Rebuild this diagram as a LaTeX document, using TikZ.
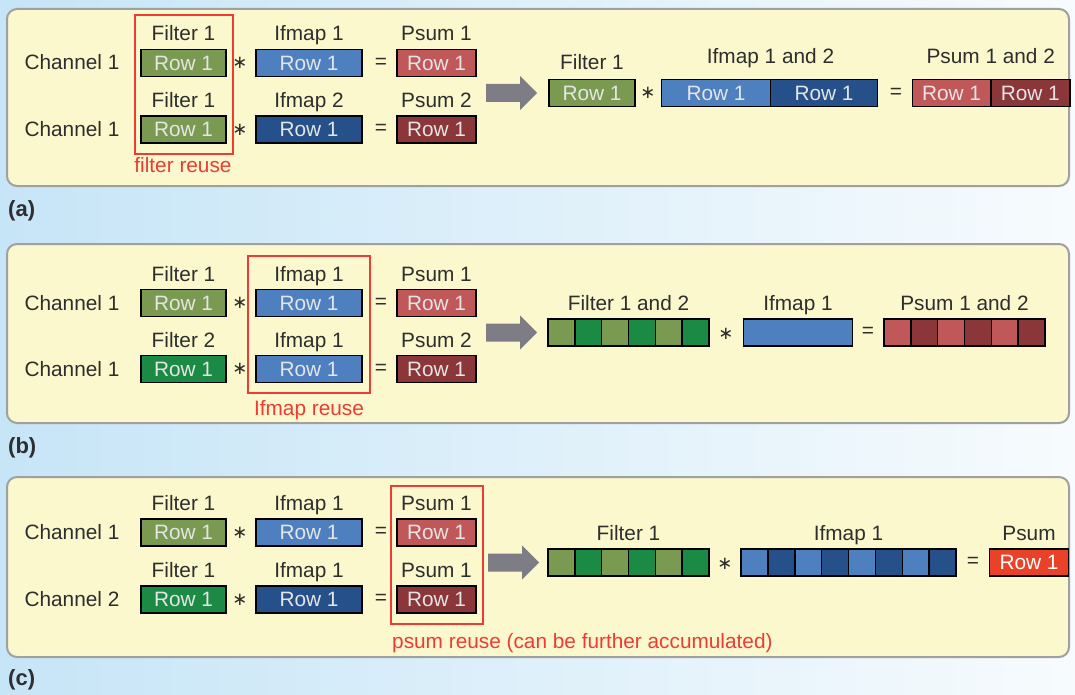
\documentclass[tikz,border=0pt]{standalone}
\usepackage{fontspec}
\setmainfont{Liberation Sans}
\newfontfamily\opfont{DejaVu Sans}
\usetikzlibrary{positioning}
\definecolor{fgreen}{HTML}{7A9A52}
\definecolor{fgreenD}{HTML}{1B8A45}
\definecolor{iblue}{HTML}{4E80C0}
\definecolor{iblueD}{HTML}{25508A}
\definecolor{pred}{HTML}{C0585A}
\definecolor{predD}{HTML}{8B3639}
\definecolor{pbright}{HTML}{EA4129}
\definecolor{reusered}{HTML}{EE3B36}
\definecolor{panelfill}{HTML}{FAF8CC}
\definecolor{panelline}{HTML}{A0A0A0}
\definecolor{ink}{HTML}{2E2E2E}
\definecolor{arrowgray}{HTML}{7E7C85}
\definecolor{bgL}{HTML}{C6E5F7}
\definecolor{bgR}{HTML}{F7FBFD}
\tikzset{
  txt/.style={font=\fontsize{20.8}{24}\selectfont,text=ink,inner sep=0pt},
  row/.style={txt,draw=black,line width=1.5pt,outer sep=0pt,minimum height=27pt,text=white!90!black},
  cell/.style={row,minimum width=26.8pt},
  op/.style={txt,font=\opfont\fontsize{18}{20}\selectfont},
  panel/.style={draw=panelline,line width=2pt,fill=panelfill,rounded corners=10pt},
  reusebox/.style={draw=reusered,line width=1.3pt},
  reusetxt/.style={txt,text=reusered,anchor=base},
  tag/.style={txt,font=\fontsize{22}{24}\selectfont\bfseries,anchor=base west}
}
\newcommand\bigarr[2]{\fill[arrowgray,shift={(#1,#2)}] (0,-9) -- (34,-9) -- (34,-17) -- (51,0)
  -- (34,17) -- (34,9) -- (0,9) -- cycle;}
\begin{document}
\begin{tikzpicture}[x=1pt,y=-1pt]
\useasboundingbox (0,0) rectangle (1075,695);
\shade[left color=bgL,right color=bgR] (0,0) rectangle (1075,695);
\foreach \t/\b in {9/186,244/423,477/657} \draw[panel] (7,\t) rectangle (1069,\b);
\node[tag] (ta) at (8,216) {(a)};
\node[tag] (tb) at (8,453) {(b)};
\node[tag] (tc) at (8,685) {(c)};
% left halves: one line per channel row
\foreach \n/\y/\ch/\fl/\fc/\il/\ic/\pl/\pc in {
  a1/63/Channel 1/Filter 1/fgreen/Ifmap 1/iblue/Psum 1/pred,
  a2/129.5/Channel 1/Filter 1/fgreen/Ifmap 2/iblueD/Psum 2/predD,
  b1/303/Channel 1/Filter 1/fgreen/Ifmap 1/iblue/Psum 1/pred,
  b2/369/Channel 1/Filter 2/fgreenD/Ifmap 1/iblue/Psum 2/predD,
  c1/532.5/Channel 1/Filter 1/fgreen/Ifmap 1/iblue/Psum 1/pred,
  c2/599.5/Channel 2/Filter 1/fgreenD/Ifmap 1/iblueD/Psum 1/predD}{
  \node[txt,anchor=base] (\n-ch) at (72,\y+7) {\ch};
  \node[row,fill=\fc,minimum width=85pt] (\n-f) at (183.5,\y) {Row 1};
  \node[row,fill=\ic,minimum width=106pt] (\n-i) at (309,\y) {Row 1};
  \node[row,fill=\pc,minimum width=79pt] (\n-p) at (436.5,\y) {Row 1};
  \node[txt,anchor=base] (\n-fl) at ([yshift=8.5pt]\n-f.north) {\fl};
  \node[txt,anchor=base] (\n-il) at ([yshift=8.5pt]\n-i.north) {\il};
  \node[txt,anchor=base] (\n-pl) at ([yshift=8.5pt]\n-p.north) {\pl};
  \node[op] (\n-st) at (240,\y) {∗};
  \node[txt] (\n-eq) at (381,\y) {=};
}
\draw[reusebox] (135,15) rectangle (233,154);
\node[reusetxt] (ra) at (183,173) {filter reuse};
\draw[reusebox] (248,256) rectangle (370,393);
\node[reusetxt] (rb) at (309,415) {Ifmap reuse};
\draw[reusebox] (391,486) rectangle (483,624);
\node[reusetxt,anchor=base west] (rc) at (392,648) {psum reuse (can be further accumulated)};
% (a) right
\bigarr{486}{93}
\node[row,fill=fgreen,minimum width=86pt] (aR-f) at (592,93) {Row 1};
\node[row,fill=iblue,minimum width=109pt] (aR-i1) at (716,93) {Row 1};
\node[row,fill=iblueD,minimum width=107pt,anchor=west] (aR-i2) at (aR-i1.east) {Row 1};
\node[row,fill=pred,minimum width=78.5pt] (aR-p1) at (951.5,93) {Row 1};
\node[row,fill=predD,minimum width=79pt,anchor=west] (aR-p2) at (aR-p1.east) {Row 1};
\node[txt,anchor=base] (aR-fl) at (592,70) {Filter 1};
\node[txt,anchor=base] (aR-il) at (aR-i1.east |- 0,64) {Ifmap 1 and 2};
\node[txt,anchor=base] (aR-pl) at (aR-p1.east |- 0,64) {Psum 1 and 2};
\node[op] (aR-st) at (648,93) {∗};
\node[txt] (aR-eq) at (896,93) {=};
% (b) right
\bigarr{486}{332.5}
\foreach \c [count=\k] in {fgreen,fgreenD,fgreen,fgreenD,fgreen,fgreenD}
  \node[cell,fill=\c] (bR-f\k) at (548+26.83*\k-13.4,332.5) {};
\node[row,fill=iblue,minimum width=109pt] (bR-i) at (798,332.5) {};
\foreach \c [count=\k] in {pred,predD,pred,predD,pred,predD}
  \node[cell,fill=\c] (bR-p\k) at (884+26.83*\k-13.4,332.5) {};
\node[txt,anchor=base] (bR-fl) at (628.5,310) {Filter 1 and 2};
\node[txt,anchor=base] (bR-il) at (798,310) {Ifmap 1};
\node[txt,anchor=base] (bR-pl) at (964.5,310) {Psum 1 and 2};
\node[op] (bR-st) at (726,334) {∗};
\node[txt] (bR-eq) at (868,332.5) {=};
% (c) right
\bigarr{488}{562.5}
\foreach \c [count=\k] in {fgreen,fgreenD,fgreen,fgreenD,fgreen,fgreenD}
  \node[cell,fill=\c] (cR-f\k) at (548+26.83*\k-13.4,562.5) {};
\foreach \c [count=\k] in {iblue,iblueD,iblue,iblueD,iblue,iblueD,iblue,iblueD}
  \node[cell,fill=\c] (cR-i\k) at (741+26.875*\k-13.4,562.5) {};
\node[row,fill=pbright,minimum width=79pt,text=white] (cR-p) at (1029,562.5) {Row 1};
\node[txt,anchor=base] (cR-fl) at (628.5,540) {Filter 1};
\node[txt,anchor=base] (cR-il) at (848.5,540) {Ifmap 1};
\node[txt,anchor=base] (cR-pl) at (1029,540) {Psum};
\node[op] (cR-st) at (725,564) {∗};
\node[txt] (cR-eq) at (973,562.5) {=};
\end{tikzpicture}
\end{document}
